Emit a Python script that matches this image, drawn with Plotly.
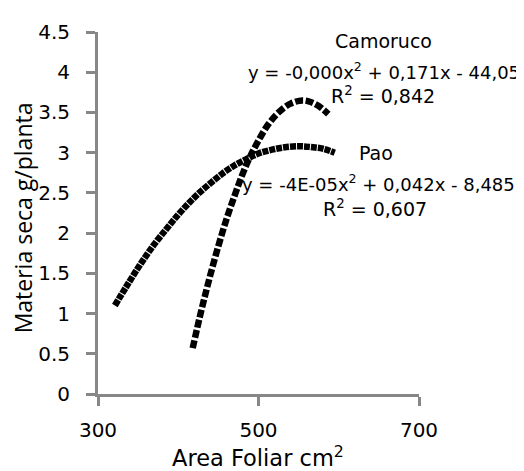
import plotly.graph_objects as go

# values
pao_x = [321, 335, 352, 370, 386, 400, 412, 425, 440, 455, 470, 485, 500, 518, 535, 552, 565, 580, 595]
pao_y = [1.10, 1.33, 1.60, 1.86, 2.06, 2.23, 2.36, 2.49, 2.62, 2.74, 2.84, 2.92, 2.99, 3.04, 3.07, 3.08, 3.07, 3.05, 3.00]

camoruco_x = [418, 425, 432, 440, 450, 460, 470, 480, 490, 500, 512, 525, 540, 555, 565, 575, 587]
camoruco_y = [0.57, 0.88, 1.17, 1.48, 1.84, 2.17, 2.46, 2.73, 2.96, 3.15, 3.35, 3.50, 3.61, 3.65, 3.63, 3.58, 3.48]

x_ticks = [300, 500, 700]
y_ticks = [0, 0.5, 1, 1.5, 2, 2.5, 3, 3.5, 4, 4.5]
y_ticktext = ["0", "0.5", "1", "1.5", "2", "2.5", "3", "3.5", "4", "4.5"]

FONT = "DejaVu Sans"
AXIS_GREY = "#878787"
OFF = 8  # page body margin of the browser


def paper(px, py):
    # pixel position in the screenshot -> paper coords of the plot area
    return (px - 98) / 321, (394 - py) / 371


fig = go.Figure()
fig.add_trace(go.Scatter(
    x=camoruco_x, y=camoruco_y, mode="lines", line_shape="spline",
    line=dict(color="black", width=6.5, dash="8px,2.5px"), showlegend=False,
))
fig.add_trace(go.Scatter(
    x=pao_x, y=pao_y, mode="lines", line_shape="spline",
    line=dict(color="black", width=6.5, dash="6px,1px"), showlegend=False,
))

notes = [
    ("Camoruco", 383, 32, 19),
    ("y = -0,000x<sup>2</sup> + 0,171x - 44,05", 384, 63, 18),
    ("R<sup>2</sup> = 0,842", 383, 88, 19),
    ("Pao", 376, 147, 19),
    ("y = -4E-05x<sup>2</sup> + 0,042x - 8,485", 378, 178, 18),
    ("R<sup>2</sup> = 0,607", 375, 203, 19),
]
for txt, px, py, fs in notes:
    ax, ay = paper(px, py)
    fig.add_annotation(
        text=txt, xref="paper", yref="paper", x=ax, y=ay,
        xanchor="center", yanchor="middle", showarrow=False,
        font=dict(family=FONT, size=fs, color="black"),
    )

# axis titles
ax, ay = paper(258, 458)
fig.add_annotation(
    text="Area Foliar cm<sup>2</sup>", xref="paper", yref="paper", x=ax, y=ay,
    xanchor="center", yanchor="middle", showarrow=False,
    font=dict(family=FONT, size=22.5, color="black"),
)
ax, ay = paper(23, 214)
fig.add_annotation(
    text="Materia seca g/planta", xref="paper", yref="paper", x=ax, y=ay,
    xanchor="center", yanchor="middle", showarrow=False, textangle=-90,
    borderpad=0, font=dict(family="Open Sans", size=23, color="black"),
)

fig.update_layout(
    width=524 - OFF, height=471 - OFF,
    margin=dict(l=98 - OFF, r=105, t=23 - OFF, b=77),
    paper_bgcolor="white", plot_bgcolor="white",
    font=dict(family=FONT, size=20, color="black"),
    xaxis=dict(
        range=[300, 700], tickvals=x_ticks, showgrid=False, zeroline=False,
        showline=True, linecolor=AXIS_GREY, linewidth=3,
        ticks="outside", ticklen=9, tickwidth=3, tickcolor=AXIS_GREY,
        ticklabelstandoff=7,
    ),
    yaxis=dict(
        range=[0, 4.5], tickvals=y_ticks, ticktext=y_ticktext,
        showgrid=False, zeroline=False,
        showline=True, linecolor=AXIS_GREY, linewidth=3,
        ticks="outside", ticklen=9, tickwidth=3, tickcolor=AXIS_GREY,
        ticklabelstandoff=12,
    ),
)

fig.write_html("out.html")
